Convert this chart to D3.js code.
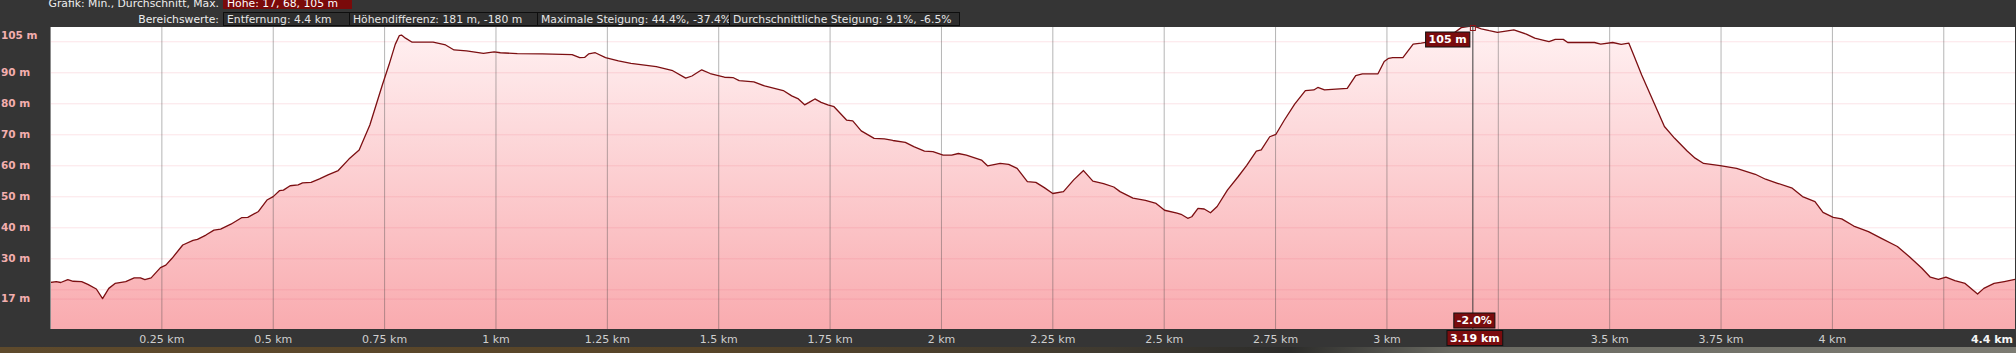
<!DOCTYPE html>
<html>
<head>
<meta charset="utf-8">
<script src="https://cdn.jsdelivr.net/npm/d3@7"></script>
<style>
  html, body { margin: 0; padding: 0; background: #353535; overflow: hidden; }
  text { font-family: "DejaVu Sans", sans-serif; }
</style>
</head>
<body>
<div id="profile"></div>
<script>
// distance along the track (km) and elevation (m)
let distKm = [
  0.000,0.014,0.024,0.040,0.052,0.071,0.085,0.104,0.118,0.132,0.146,0.170,0.189,0.203,0.213,0.227,0.248,0.260,0.274,0.298,
  0.321,0.331,0.350,0.368,0.383,0.406,0.430,0.444,0.468,0.487,0.501,0.515,0.524,0.539,0.557,0.567,0.586,0.605,0.624,0.647,
  0.671,0.694,0.718,0.746,0.761,0.775,0.784,0.789,0.798,0.813,0.860,0.888,0.907,0.935,0.973,0.997,1.011,1.049,1.105,1.172,
  1.189,1.200,1.209,1.224,1.247,1.276,1.304,1.361,1.398,1.427,1.441,1.463,1.482,
  1.500,1.514,1.533,1.547,1.580,1.604,1.646,1.665,1.680,1.694,1.703,1.717,1.731,1.746,1.760,1.788,1.802,1.821,1.850,1.873,
  1.892,1.920,1.939,1.963,1.982,2.005,2.024,2.039,2.057,2.091,2.105,2.133,2.152,2.171,2.194,2.213,2.232,2.251,2.275,2.298,
  2.320,2.341,2.365,2.388,2.402,2.431,2.459,2.483,2.502,2.530,2.539,2.554,2.563,2.577,2.591,2.605,2.620,2.643,2.667,2.686,
  2.708,2.719,2.738,2.752,2.771,2.794,2.818,2.837,2.846,2.861,2.912,2.931,2.946,
  2.981,2.995,3.005,3.014,3.037,3.060,3.078,3.092,3.120,3.150,3.168,3.194,3.213,3.231,3.249,3.268,3.286,3.314,3.333,3.351,
  3.365,3.379,3.397,3.407,3.467,3.481,3.508,3.527,3.544,3.555,3.573,3.601,3.624,3.647,3.675,3.693,3.712,3.749,3.786,3.828,
  3.851,3.878,3.911,3.934,3.962,3.980,4.003,4.022,4.049,4.082,4.110,4.147,4.174,4.202,4.221,4.239,4.256,4.276,4.299,4.327,
  4.341,4.364,4.387,4.411
];
let elevM = [
  22.2,22.5,22.2,23.1,22.6,22.5,21.6,20.1,17.0,20.3,21.9,22.5,23.7,23.7,23.1,23.7,27.0,27.8,30.0,34.3,
  35.8,36.1,37.5,39.1,39.4,41.0,43.1,43.2,45.1,48.8,49.9,51.8,52.0,53.4,53.7,54.3,54.5,55.6,56.9,58.3,
  62.0,64.9,73.0,85.9,92.4,99.0,101.8,102.0,101.0,99.7,99.7,98.8,97.2,96.9,96.1,96.6,96.3,96.0,95.9,95.7,
  94.7,94.8,95.9,96.3,94.7,93.7,92.9,91.8,90.5,88.1,88.8,90.8,89.6,
  88.9,88.4,88.3,87.3,86.9,85.6,84.1,82.4,81.4,79.5,80.2,81.4,80.3,79.5,78.9,74.6,74.3,71.1,68.7,68.5,
  68.0,67.4,66.0,64.6,64.4,63.3,63.3,63.8,63.3,61.7,59.8,60.6,60.3,59.0,54.7,54.5,52.8,50.9,51.5,55.3,
  58.3,54.9,54.1,53.0,51.5,49.4,48.7,47.7,45.5,44.6,44.2,42.9,43.4,46.1,45.9,44.7,46.7,52.0,56.3,59.9,
  64.6,65.0,69.2,70.0,74.6,79.7,84.1,84.3,85.1,84.3,84.8,88.9,89.5,
  89.5,93.5,94.5,94.7,94.7,99.1,99.4,99.7,100.5,102.5,104.4,105.0,104.0,103.4,102.9,103.3,103.7,102.3,101.0,100.4,
  99.9,100.6,100.6,99.6,99.6,99.1,99.6,99.0,99.4,95.6,89.1,80.0,72.5,68.7,64.6,62.3,60.6,59.9,59.0,57.1,
  55.5,54.2,52.6,49.9,48.3,44.8,43.2,42.7,40.4,38.6,36.5,33.8,30.5,26.8,23.9,23.2,23.9,22.8,21.9,18.5,
  20.3,21.9,22.5,23.2
];

let xGridKm  = [0.25,0.5,0.75,1,1.25,1.5,1.75,2,2.25,2.5,2.75,3,3.25,3.5,3.75,4,4.25];
let xLabelKm = [0.25,0.5,0.75,1,1.25,1.5,1.75,2,2.25,2.5,2.75,3,3.5,3.75,4];
let xEndKm   = 4.4;
let yGridM   = [17,20,30,40,50,60,70,80,90,100];
let yLabelM  = [17,30,40,50,60,70,80,90,105];

let markerKm = 3.194, markerElev = 105, markerGrade = "-2.0%";

let headerTitle = "Grafik: Min., Durchschnitt, Max.";
let headerHeight = "Höhe: 17, 68, 105 m";
let rangeTitle = "Bereichswerte:";
let rangeStats = ["Entfernung: 4.4 km", "Höhendifferenz: 181 m, -180 m",
                  "Maximale Steigung: 44.4%, -37.4%", "Durchschnittliche Steigung: 9.1%, -6.5%"];
let rangeBoxW = [126, 188, 192, 230];

let width = 2016, height = 353;
let plot = {left: 50, right: 2015, top: 27, bottom: 329};

let svg =
  d3.select("#profile")
    .append("svg")
      .attr("width", width)
      .attr("height", height);

let defs = svg.append("defs");

let fillGrad = defs.append("linearGradient")
    .attr("id", "fillGrad")
    .attr("gradientUnits", "userSpaceOnUse")
    .attr("x1", 0).attr("x2", 0)
    .attr("y1", plot.top).attr("y2", plot.bottom);
fillGrad.append("stop").attr("offset", "0%").attr("stop-color", "#fff1f2");
fillGrad.append("stop").attr("offset", "100%").attr("stop-color", "#f9abaf");

let mapGrad = defs.append("linearGradient").attr("id", "mapGrad");
[["0%", "#5e4a2c"], ["35%", "#574428"], ["55%", "#3f3a30"], ["64%", "#2c2c2a"], ["72%", "#6a6a62"], ["100%", "#7c7b72"]]
  .forEach(function(s) { mapGrad.append("stop").attr("offset", s[0]).attr("stop-color", s[1]); });

defs.append("clipPath").attr("id", "plotClip")
  .append("rect")
    .attr("x", plot.left).attr("y", plot.top)
    .attr("width", plot.right - plot.left)
    .attr("height", plot.bottom - plot.top);

let x = d3.scaleLinear().domain([0, 4.411]).range([plot.left, plot.right]);
let y = d3.scaleLinear().domain([7.2, 104.6]).range([plot.bottom, plot.top]);

let points = distKm.map(function(d, i) { return {d: d, v: elevM[i]}; });

// background pieces
svg.append("rect")
    .attr("x", 0).attr("y", 347).attr("width", width).attr("height", 6)
    .attr("fill", "url(#mapGrad)");

svg.append("rect")
    .attr("x", plot.left).attr("y", plot.top)
    .attr("width", plot.right - plot.left).attr("height", plot.bottom - plot.top)
    .attr("fill", "#ffffff");

let chart = svg.append("g").attr("clip-path", "url(#plotClip)");

let area =
  d3.area()
    .x(function(p) { return x(p.d); })
    .y0(plot.bottom)
    .y1(function(p) { return y(p.v); });

let line =
  d3.line()
    .x(function(p) { return x(p.d); })
    .y(function(p) { return y(p.v); });

chart.append("path")
    .datum(points)
    .attr("d", area)
    .attr("fill", "url(#fillGrad)");

// horizontal grid
chart.append("g")
    .attr("transform", translate(plot.left, 0))
    .call(d3.axisLeft(y).tickValues(yGridM).tickSize(-(plot.right - plot.left)).tickFormat(""))
    .call(function(g) { g.select(".domain").remove(); })
    .selectAll("line")
      .attr("stroke", "rgba(238,90,110,0.16)");

// vertical grid
chart.append("g")
    .attr("transform", translate(0, plot.bottom))
    .call(d3.axisBottom(x).tickValues(xGridKm).tickSize(-(plot.bottom - plot.top)).tickFormat(""))
    .call(function(g) { g.select(".domain").remove(); })
    .selectAll("line")
      .attr("stroke", "rgba(70,70,70,0.4)");

chart.append("path")
    .datum(points)
    .attr("d", line)
    .attr("fill", "none")
    .attr("stroke", "#7c0f12")
    .attr("stroke-width", 1.3)
    .attr("stroke-linejoin", "round");

svg.append("line")
    .attr("x1", plot.left + 0.5).attr("x2", plot.left + 0.5)
    .attr("y1", plot.top).attr("y2", plot.bottom)
    .attr("stroke", "#8c8c8c");

// y labels
svg.append("g")
  .selectAll("text")
  .data(yLabelM)
  .enter()
  .append("text")
    .attr("x", 1)
    .attr("y", function(v) { return Math.max(y(v), plot.top + 8.7); })
    .attr("dy", "0.35em")
    .attr("fill", "#f3aeae")
    .attr("font-size", "10.5px")
    .attr("font-weight", "bold")
    .text(function(v) { return v + " m"; });

// x labels
svg.append("g")
    .attr("transform", translate(0, plot.bottom))
    .call(d3.axisBottom(x).tickValues(xLabelKm).tickSize(0).tickPadding(6)
            .tickFormat(function(d) { return d + " km"; }))
    .call(function(g) { g.select(".domain").remove(); })
    .selectAll("text")
      .attr("fill", "#cfcfcf")
      .attr("font-size", "11px")
      .attr("font-family", "DejaVu Sans, sans-serif");

svg.append("text")
    .attr("x", 2013)
    .attr("y", plot.bottom + 10)
    .attr("dy", "0.35em")
    .attr("text-anchor", "end")
    .attr("fill", "#f4f4f4")
    .attr("font-size", "11px")
    .attr("font-weight", "bold")
    .text(xEndKm + " km");

// hover marker
let mx = x(markerKm);
svg.append("line")
    .attr("x1", mx).attr("x2", mx)
    .attr("y1", plot.top).attr("y2", plot.bottom)
    .attr("stroke", "#3a3a3a")
    .attr("stroke-width", 1);

svg.append("rect")
    .attr("x", mx - 2.5).attr("y", Math.max(y(markerElev), plot.top + 1) - 2.5)
    .attr("width", 5).attr("height", 5)
    .attr("fill", "none")
    .attr("stroke", "#8a1416");

function tag(label, cx, cy, anchor) {
  let g = svg.append("g");
  let t = g.append("text")
      .attr("x", cx).attr("y", cy)
      .attr("dy", "0.36em")
      .attr("text-anchor", anchor)
      .attr("fill", "#ffffff")
      .attr("font-size", "11px")
      .attr("font-weight", "bold")
      .text(label);
  let b = t.node().getBBox();
  g.insert("rect", "text")
      .attr("x", b.x - 3).attr("y", cy - 7.5)
      .attr("width", b.width + 6).attr("height", 15)
      .attr("fill", "#7a0c0e")
      .attr("stroke", "#111")
      .attr("stroke-width", 1);
}

tag(markerElev + " m", mx - 6, 39.5, "end");
tag(markerGrade, mx + 1.5, 320.5, "middle");
tag(d3.format(".2f")(markerKm) + " km", mx + 2, 338, "middle");

// header
let headFont = "DejaVu Sans Condensed, sans-serif";

svg.append("text")
    .attr("x", 219).attr("y", 7)
    .attr("text-anchor", "end")
    .attr("fill", "#eeeeee")
    .attr("font-size", "10.8px")
    .attr("font-family", headFont)
    .text(headerTitle);

let hb = svg.append("g");
let ht = hb.append("text")
    .attr("x", 227).attr("y", 7)
    .attr("fill", "#ffffff")
    .attr("font-size", "10.8px")
    .attr("font-family", headFont)
    .text(headerHeight);
hb.insert("rect", "text")
    .attr("x", 223).attr("y", -1)
    .attr("width", 129).attr("height", 10)
    .attr("fill", "#7a0a0a");

svg.append("text")
    .attr("x", 219).attr("y", 22.5)
    .attr("text-anchor", "end")
    .attr("fill", "#eeeeee")
    .attr("font-size", "10.8px")
    .attr("font-family", headFont)
    .text(rangeTitle);

let bx = 223;
rangeStats.forEach(function(s, i) {
  let g = svg.append("g");
  g.append("rect")
      .attr("x", bx + 0.5).attr("y", 12.5)
      .attr("width", rangeBoxW[i]).attr("height", 13)
      .attr("fill", "#2e2e2e")
      .attr("stroke", "#0e0e0e");
  g.append("text")
      .attr("x", bx + 4).attr("y", 22.5)
      .attr("fill", "#e6e6e6")
      .attr("font-size", "10.8px")
      .attr("font-family", headFont)
      .text(s);
  bx += rangeBoxW[i];
});

function translate(x, y=0) {
  return "translate({x}, {y})"
          .replace("{x}", x)
          .replace("{y}", y);
}
</script>
</body>
</html>
